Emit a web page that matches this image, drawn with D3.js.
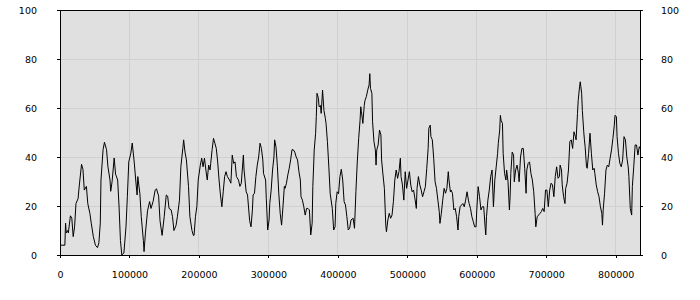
<html>
<head>
<script src="https://d3js.org/d3.v7.min.js"></script>
<style>
  body { margin: 0; background: #fff; }
  svg { display: block; }
  .tick text { font-family: "DejaVu Sans", Verdana, sans-serif; font-size: 9.5px; fill: #000; }
</style>
</head>
<body>
<svg width="700" height="300"></svg>
<script>
// x positions in thousands
var posK = [0,7,8,9,11,12,15,17,19,21,23,26,28,31,33,35,38,40,43,45,48,51,54,56,58,59,62,64,67,69,72,73,75,78,80,83,85,87,89,92,95,97,99,102,104,107,109,111,112,115,117,120,121,123,126,129,131,134,137,139,
  142,144,147,150,153,155,157,160,162,164,167,169,172,174,177,178,180,182,185,187,190,192,193,195,197,199,202,204,206,208,210,212,214,216,217,219,221,223,225,227,229,231,233,235,237,239,241,244,246,248,250,252,254,257,259,261,264,265,268,270,273,275,277,
  278,280,282,284,286,288,290,292,293,296,297,299,301,302,304,306,308,309,311,313,315,317,319,321,323,324,326,328,330,332,334,336,338,340,342,344,346,347,349,351,353,355,357,359,361,363,364,366,368,369,370,372,373,375,376,378,380,382,383,385,387,389,392,394,396,397,399,401,403,405,407,409,411,413,415,417,419,
  422,424,426,428,430,432,433,434,436,438,439,441,443,445,446,447,449,450,452,454,455,456,458,460,462,463,465,467,469,470,472,474,476,478,480,482,484,486,488,490,491,493,495,497,499,501,503,505,507,509,511,513,514,516,518,520,522,524,526,528,530,531,533,534,536,538,540,542,544,546,547,549,551,553,555,557,559,560,
  562,563,565,567,569,571,573,574,576,578,580,582,584,586,588,589,591,593,595,597,599,600,602,604,606,608,610,612,613,614,616,618,620,622,624,626,628,630,631,633,634,635,637,638,640,642,643,645,647,648,649,651,653,654,656,658,660,661,663,665,667,669,671,672,674,676,678,680,682,684,685,687,689,691,693,695,697,699,
  701,703,705,707,709,711,713,715,717,719,720,722,723,725,727,728,730,732,734,736,738,740,742,743,745,746,748,749,751,752,754,755,756,758,759,761,763,765,767,769,770,772,774,776,778,780,781,782,784,786,788,790,792,794,796,798,799,801,802,804,806,808,810,812,814,816,818,819,821,823,824,826,828,830,832,834,835];

var values = [4,4,13,9,10,9,16,15,7.5,11.5,21,23,29,37,35,26.5,28,21,17,13,7.5,4,3,5,13,30.6,43,46,43,36,30.6,26,30,39.6,33,30.6,20,6,0,0.8,11.5,24,38,41.6,45.7,37.5,30.6,24.5,32,25,15.6,6,1.4,9,18,21.8,19,21.8,26.5,27,
  24,14,8,15.6,24.5,24,19,18.4,15.6,10,12,15.6,22.4,36,44,47,42,38.8,28,15.6,10,8,8,15.6,19.7,30.6,36.7,39.5,36,39.5,34.7,30.6,36.7,34.7,37.4,43,47.6,45.6,43.5,38,30.6,24.5,19.7,25.8,32,34,32,30.6,29.3,40.8,37.4,38,32,30.6,28,29.3,40.8,34.7,25.8,24.5,14,11.5,18.4,
  24.5,25.2,32,36.7,40,45.6,43.5,38.8,33.3,30.6,23,10.2,14.3,21,26.5,34.7,40,47,44,36,25,17,12.2,19.7,28,27.2,29.3,32.7,35.4,38.8,43,42.9,42,40,38.8,34,30.6,23.8,22.4,19.7,16.3,19,19,18.4,8.2,13,28,42.9,49.7,56.5,66,64,60.5,61,57.8,67.3,59,55.8,53.7,46.3,36,25,19,10.2,11.5,21,25.8,25,32,35,30.6,21.8,20.4,15.6,10.2,10.9,14.3,
  15,10.9,25.8,38,47.6,55,60.5,58.5,53.7,61,63,64.6,67.3,69.4,74,68,66,54.4,46.3,42.9,36.7,42.9,44.9,51,49,38.8,32.7,27.2,12.2,9.5,14.3,17,15,16.3,21.8,30.6,34.7,31.3,34,39.5,32,28.6,22.4,34,27.2,30.6,34,28.6,25.8,26.5,23,19,27.2,32,28.6,26.5,23.8,25.8,27.9,35.4,43.5,51.7,53,48.3,47,39.5,29.9,27.2,22.4,17.7,12.9,17,22.4,27.2,25.2,27.2,34,30.6,
  25.8,26.5,25.2,18.4,19,15.6,10.2,15.6,19.7,20.4,21,19.7,22.4,25.8,22.4,21,19,15.6,13.6,11.5,11.5,18.4,27.9,23.8,18.4,19.7,19.7,11.5,8.2,15.6,22.4,26.5,32,34.7,19.7,30.6,36,41.5,45.6,51,57,55,53.7,41.5,33.3,30.6,34.7,29.9,18.4,23.8,33.3,42,40.8,29.9,34.7,36.7,33.3,29.9,40,43.5,43.5,35.4,25.2,34.7,37.4,38,33.3,30.6,25.8,17,11.5,15.6,16.3,17,17.7,19,17.7,26.5,
  26.5,19.7,26.5,29.3,28.6,23.8,32,36,31.3,32,36.7,34.7,28.6,23.8,21,27.2,29.3,34.7,46.3,47,43.5,50.3,48.3,47,57.8,63,68.7,70.7,66,59,50.3,47,44.2,36,35.4,41.5,49.7,41.5,34.7,35.4,33.3,28.6,25.8,23.8,19.7,17,12.2,18.4,25.2,34.7,36.7,36,39.5,42.9,47.6,53,57,56.5,48.3,41.5,37.4,36,38.8,48.3,47,40,36,32,19,16.3,27.9,36,44.9,44.9,40.8,44.2,43.5];

var xTicks = [0,100000,200000,300000,400000,500000,600000,700000,800000];
var yTicks = [0,20,40,60,80,100];

var data = posK.map(function(k, i) { return {x: k * 1000, y: values[i]}; });

var svg = d3.select("svg");
var plotLeft = 60, plotRight = 640, plotTop = 10, plotBottom = 255;

var x = d3.scaleLinear().domain([0, 835000]).range([plotLeft, plotRight]);
var y = d3.scaleLinear().domain([0, 100]).range([plotBottom, plotTop]);

// plot background
svg.append("rect")
  .attr("x", plotLeft).attr("y", plotTop)
  .attr("width", plotRight - plotLeft).attr("height", plotBottom - plotTop)
  .attr("fill", "#e0e0e0");

// grid
var grid = svg.append("g").attr("shape-rendering", "crispEdges");
grid.selectAll(".gx").data(xTicks.slice(1)).enter().append("line")
  .attr("x1", function(d) { return x(d); }).attr("x2", function(d) { return x(d); })
  .attr("y1", plotTop).attr("y2", plotBottom)
  .attr("stroke", "#d0d0d0");
grid.selectAll(".gy").data(yTicks.slice(1, -1)).enter().append("line")
  .attr("x1", plotLeft).attr("x2", plotRight)
  .attr("y1", function(d) { return y(d); }).attr("y2", function(d) { return y(d); })
  .attr("stroke", "#d0d0d0");

// series
svg.append("path")
  .datum(data)
  .attr("fill", "none")
  .attr("stroke", "#000")
  .attr("stroke-width", 1)
  .attr("d", d3.line()
    .x(function(d) { return x(d.x); })
    .y(function(d) { return y(d.y); }));

// axes
svg.append("g")
  .attr("transform", "translate(0," + plotBottom + ")")
  .call(d3.axisBottom(x).tickValues(xTicks).tickFormat(d3.format("d")).tickSize(3).tickPadding(13));
svg.append("g")
  .attr("transform", "translate(" + plotLeft + ",0)")
  .call(d3.axisLeft(y).tickValues(yTicks).tickSize(3).tickPadding(20));
svg.append("g")
  .attr("transform", "translate(" + plotRight + ",0)")
  .call(d3.axisRight(y).tickValues(yTicks).tickSize(3).tickPadding(18));

svg.selectAll(".domain").remove();
svg.selectAll(".tick line").attr("stroke", "#000").attr("shape-rendering", "crispEdges");

// frame
svg.append("rect")
  .attr("x", plotLeft).attr("y", plotTop)
  .attr("width", plotRight - plotLeft).attr("height", plotBottom - plotTop)
  .attr("fill", "none")
  .attr("stroke", "#000")
  .attr("shape-rendering", "crispEdges");
</script>
</body>
</html>
